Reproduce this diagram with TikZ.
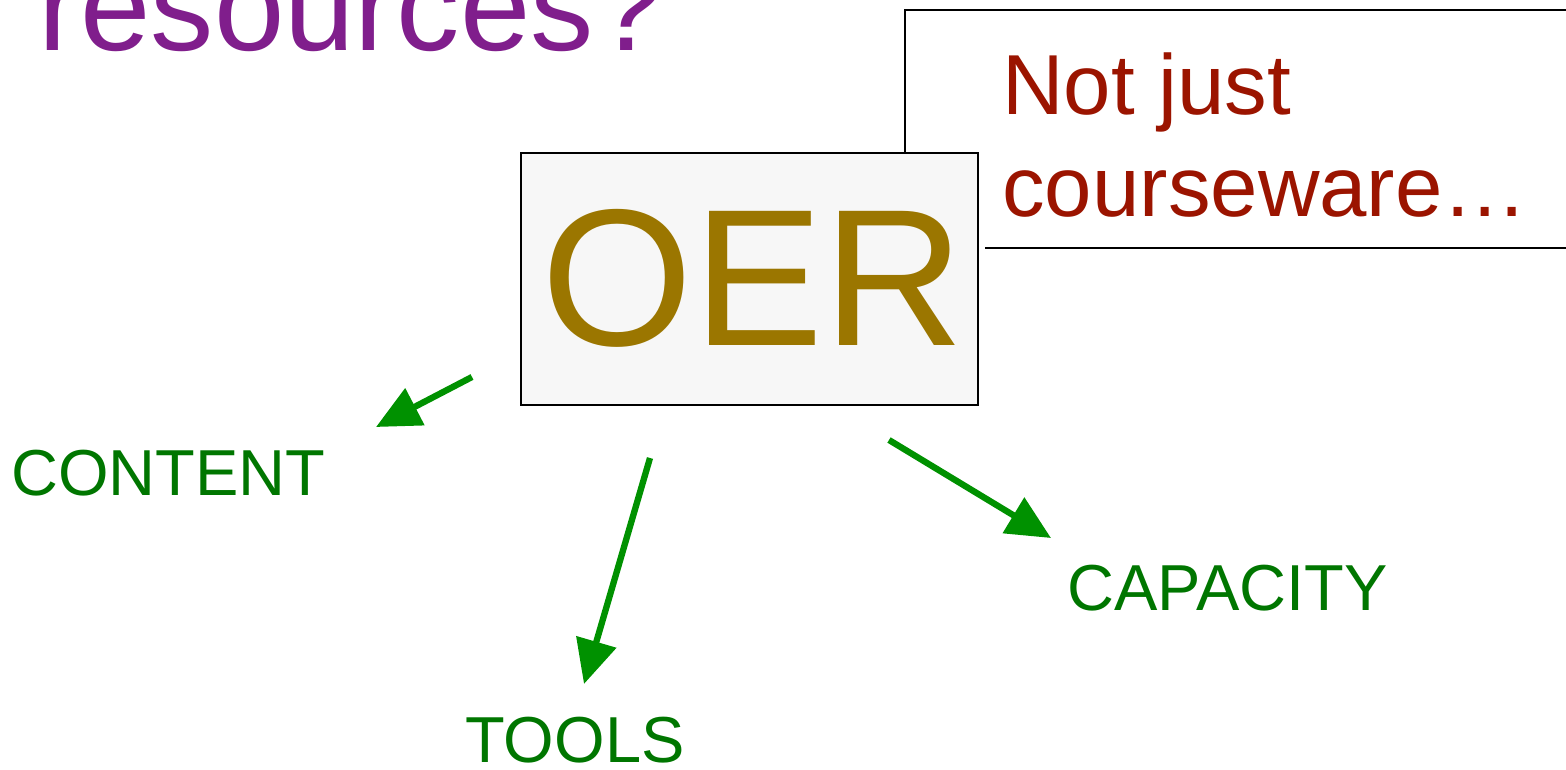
\documentclass[tikz,border=0pt]{standalone}
\usepackage{fontspec}
\setmainfont{Liberation Sans}
\usetikzlibrary{arrows.meta}
\definecolor{titlepurple}{RGB}{128,30,140}
\definecolor{oergold}{RGB}{155,118,0}
\definecolor{notred}{RGB}{155,20,0}
\definecolor{lblgreen}{RGB}{0,118,0}
\definecolor{arrgreen}{RGB}{0,145,0}
\definecolor{boxgray}{RGB}{247,247,247}
\tikzset{
  lbl/.style={anchor=base west, inner sep=0pt, text=lblgreen, font=\fontsize{37}{40}\selectfont},
  arr/.style={draw=arrgreen, line width=3.6pt, -{Triangle[length=25pt,width=23pt]}},
  thin/.style={line width=1.1pt, draw=black},
  redtxt/.style={anchor=base west, inner sep=0pt, text=notred, font=\fontsize{48.5}{58}\selectfont}
}
\begin{document}
\begin{tikzpicture}[x=0.02cm,y=-0.02cm]
\useasboundingbox (0,0) rectangle (1566,770);
% title (cut at top)
\node[anchor=base west, inner sep=0pt, text=titlepurple, font=\fontsize{72}{80}\selectfont] (title) at (38,51) {resources?};
% callout box
\draw[thin] (1580,10) -- (905,10) -- (905,160);
\draw[thin] (985,248) -- (1580,248);
\node[redtxt] (notjust) at (1002,115) {Not just};
\node[redtxt] (course) at (1002,217) {courseware…};
% OER box
\node[draw=black, line width=1.2pt, fill=boxgray, minimum width=9.14cm, minimum height=5.04cm, inner sep=0pt] (oer) at (749.5,279) {};
\node[anchor=base west, inner sep=0pt, text=oergold, font=\fontsize{111}{120}\selectfont] (oertext) at (541,345) {OER};
% labels
\node[lbl] (content) at (11,495) {CONTENT};
\node[lbl] (tools) at (465,762) {TOOLS};
\node[lbl] (capacity) at (1067,610) {CAPACITY};
% arrow endpoints
\coordinate (a1s) at (472,377);
\coordinate (a1e) at (376,427);
\coordinate (a2s) at (650,458);
\coordinate (a2e) at (584,684);
\coordinate (a3s) at (889,440);
\coordinate (a3e) at (1051,538);
\draw[arr] (a1s) -- (a1e);
\draw[arr] (a2s) -- (a2e);
\draw[arr] (a3s) -- (a3e);
\end{tikzpicture}
\end{document}
